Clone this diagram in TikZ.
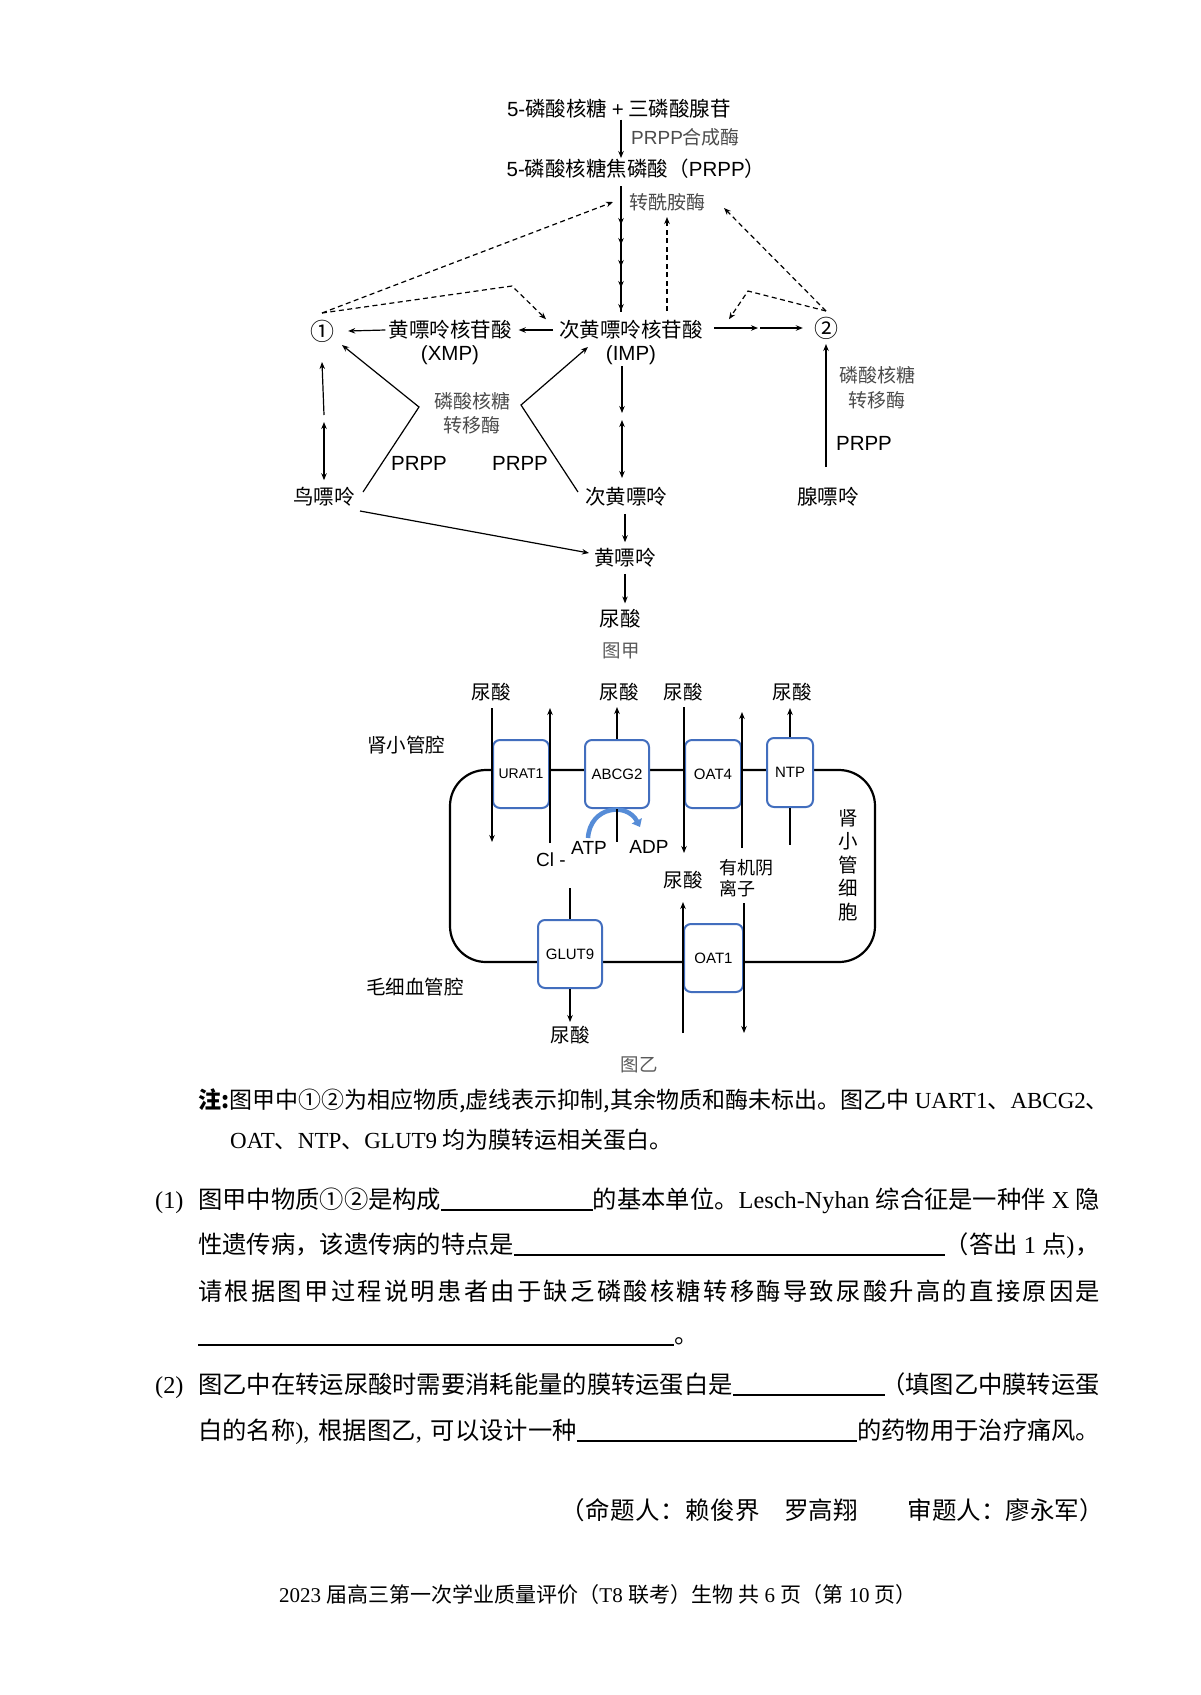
\documentclass[tikz,border=0pt]{standalone}
\usepackage{fontspec}
\setmainfont{Liberation Serif}
\newfontfamily\cjk{Noto Sans CJK SC}
\newfontfamily\sans{Liberation Sans}
\usetikzlibrary{arrows.meta,decorations.markings}
\definecolor{boxblue}{RGB}{66,110,190}
\definecolor{arcblue}{RGB}{86,140,215}
\definecolor{enzgray}{RGB}{75,75,75}
\definecolor{figgray}{RGB}{90,90,90}
\makeatletter
\def\spr@a#1#2\@nil{#1\ifx\relax#2\relax\else\hfil\spr@a#2\@nil\fi}
\newcommand\spreadto[2]{\hbox to #1{\spr@a#2\@nil}}
\makeatother
\begin{document}
\begin{tikzpicture}[x=1pt,y=-1pt,
  lab/.style={font=\cjk\fontsize{20.5}{24}\selectfont, inner sep=1pt},
  circ/.style={font=\cjk\fontsize{24}{28}\selectfont, inner sep=1pt},
  labb/.style={font=\cjk\fontsize{19.5}{23.5}\selectfont, inner sep=1pt},
  enz/.style={font=\cjk\fontsize{19}{22}\selectfont, text=enzgray, inner sep=1pt},
  la/.style={font=\sans\fontsize{20.5}{24}\selectfont, inner sep=1pt},
  lab2/.style={font=\sans\fontsize{19}{22}\selectfont, inner sep=1pt},
  figlab/.style={font=\cjk\fontsize{18.5}{22}\selectfont, text=figgray, inner sep=1pt},
  arr/.style={line width=1.2pt, -{Stealth[length=7pt,width=5.5pt]}},
  dbl/.style={line width=1.2pt, {Stealth[length=7pt,width=5.5pt]}-{Stealth[length=7pt,width=5.5pt]}},
  ln/.style={line width=1.2pt},
  darr/.style={line width=1.2pt, dash pattern=on 5pt off 3.5pt, -{Stealth[length=7pt,width=5.5pt]}},
  tbox/.style={draw=boxblue, line width=2pt, rounded corners=7pt, fill=white, font=\sans\fontsize{15}{18}\selectfont, inner sep=0pt},
  memb/.style={line width=2.2pt, rounded corners=36pt},
  body/.style={font=\fontsize{24.3}{28}\selectfont, inner sep=0pt},
  blankline/.style={line width=1.1pt}
]
\fill[white] (0,0) rectangle (1200,1695);
\useasboundingbox (0,0) rectangle (1200,1695);

% ---------------- Figure A ----------------
\node[lab] (top) at (619,109) {{\sans 5-}磷酸核糖 {\sans +} 三磷酸腺苷};
\node[lab] (prpp) at (636,169) {{\sans 5-}磷酸核糖焦磷酸（{\sans PRPP}）};
\coordinate (ch0) at (621,186);
\coordinate (ch1) at (621,312);
\draw[arr] (top.south -| ch0) -- (prpp.north -| ch0);
\node[enz, anchor=west] (e1) at (630,137) {{\sans PRPP}合成酶};
\node[enz, anchor=west] (e2) at (628,202) {转酰胺酶};

\draw[ln, postaction={decorate}, decoration={markings,
  mark=at position 39pt with {\arrow{Stealth[length=7pt,width=5.5pt]}},
  mark=at position 59pt with {\arrow{Stealth[length=7pt,width=5.5pt]}},
  mark=at position 81pt with {\arrow{Stealth[length=7pt,width=5.5pt]}},
  mark=at position 102pt with {\arrow{Stealth[length=7pt,width=5.5pt]}},
  mark=at position 125pt with {\arrow{Stealth[length=7pt,width=5.5pt]}}}] (ch0) -- (ch1);

\node[lab] (imp) at (631,330) {次黄嘌呤核苷酸};
\node[la] (impb) at (631,355) {(IMP)};
\node[lab] (xmp) at (450,330) {黄嘌呤核苷酸};
\node[la] (xmpb) at (450,355) {(XMP)};
\node[circ] (n1) at (322,331) {①};
\node[circ] (n2) at (826,328) {②};

\draw[arr] ([xshift=-5pt]imp.west) -- ([xshift=6pt]xmp.east);
\draw[arr] ([xshift=-2pt]xmp.west) -- ([xshift=13pt]n1.east);
\coordinate (r0) at (714,328);
\coordinate (r1) at (758,328);
\coordinate (r2) at (760,328);
\draw[arr] (r0) -- (r1);
\draw[arr] (r2) -- ([xshift=-10pt]n2.west);

% dashed inhibition
\coordinate (du0) at (667,311);
\coordinate (du1) at (667,217);
\draw[darr] (du0) -- (du1);
\coordinate (d0) at (322,313);
\coordinate (d1) at (512,286);
\coordinate (d2) at (724,208);
\coordinate (d3) at (748,291);
\coordinate (d4) at (826,311);
\draw[darr] (d0) -- ([xshift=-15pt]e2.west);
\draw[darr] (d0) -- (d1) -- ([xshift=-12pt]imp.north west);
\draw[darr] (d4) -- (d2);
\draw[darr] (d4) -- (d3) -- ([xshift=25pt]imp.north east);

% left column
\node[lab] (gua) at (324,497) {鸟嘌呤};
\coordinate (lc0) at (324,415);
\coordinate (lc1) at (324,422);
\draw[arr] (lc0) -- ([yshift=-31pt]n1.center);
\draw[dbl] (lc1) -- ([yshift=6pt]gua.north);

\coordinate (g1) at (363,492);
\coordinate (k1) at (419,407);
\coordinate (g2) at (342,345);
\draw[arr] (g1) -- (k1) -- (g2);
\node[lab] (hyp) at (626,497) {次黄嘌呤};
\coordinate (h1) at (578,492);
\coordinate (k2) at (521,405);
\coordinate (h2) at (588,347);
\draw[arr] (h1) -- (k2) -- (h2);
\node[la] (p1) at (419,463) {PRPP};
\node[la] (p2) at (520,463) {PRPP};
\node[enz] (e3) at (472,401) {磷酸核糖};
\node[enz] (e4) at (472,425) {转移酶};

% IMP column
\coordinate (m0) at (622,366);
\coordinate (m1) at (622,413);
\coordinate (m2) at (622,420);
\coordinate (m3) at (622,478);
\draw[arr] (m0) -- (m1);
\draw[dbl] (m2) -- (m3);

\node[lab] (xan) at (625,558) {黄嘌呤};
\draw[arr, shorten <=6pt, shorten >=5pt] (hyp.south -| xan.north) -- (xan.north);
\node[lab] (uric) at (620,619) {尿酸};
\draw[arr, shorten <=5pt, shorten >=5pt] (xan.south) -- (xan.south |- uric.north);
\node[figlab] (fa) at (621,651) {图甲};
\coordinate (gx) at (360,511);
\coordinate (xe) at (589,553);
\draw[arr] (gx) -- (xe);

% right column
\node[lab] (ade) at (828,497) {腺嘌呤};
\coordinate (a0) at (826,467);
\coordinate (a1) at (826,344);
\draw[arr] (a0) -- (a1);
\node[enz] (e5) at (877,375) {磷酸核糖};
\node[enz] (e6) at (877,400) {转移酶};
\node[la] (p3) at (864,443) {PRPP};

% ---------------- Figure B ----------------
\draw[memb] (450,770) rectangle (875,962);
\node[tbox, minimum width=56pt, minimum height=68pt, font=\sans\fontsize{14}{17}\selectfont] (urat) at (521,774) {URAT1};
\node[tbox, minimum width=64pt, minimum height=68pt] (abcg) at (617,774) {ABCG2};
\node[tbox, minimum width=56pt, minimum height=68pt] (oat4) at (713,774) {OAT4};
\node[tbox, minimum width=46pt, minimum height=69pt] (ntp) at (790,772.5) {NTP};
\node[tbox, minimum width=64pt, minimum height=68pt] (glut) at (570,954) {GLUT9};
\node[tbox, minimum width=59pt, minimum height=68pt] (oat1) at (713.5,958) {OAT1};

\node[labb] (u1) at (491,692) {尿酸};
\node[labb] (u2) at (619,692) {尿酸};
\node[labb] (u3) at (683,692) {尿酸};
\node[labb] (u4) at (792,692) {尿酸};
\node[labb] (lumen) at (406,745) {肾小管腔};
\node[labb] (cap) at (415,987) {毛细血管腔};
\node[labb, align=center] (cellt) at (848,865) {肾\\小\\管\\细\\胞};

% blue ATP arc
\draw[arcblue, line width=4.5pt, -{Triangle[length=7pt,width=11pt]}] (588,838) .. controls (590,806) and (627,802) .. (640,827);

\draw[arr] (urat.west |- 0,708) -- (urat.west |- 0,842);
\draw[arr] (urat.east |- 0,843) -- (urat.east |- 0,708);
\draw[arr] (abcg.north) -- (abcg.north |- 0,707);
\draw[ln] (abcg.south) -- (abcg.south |- 0,842);
\draw[arr] (oat4.west |- 0,707) -- (oat4.west |- 0,853);
\draw[arr] (oat4.east |- 0,848) -- (oat4.east |- 0,712);
\draw[arr] (ntp.north) -- (ntp.north |- 0,708);
\draw[ln] (ntp.south) -- (ntp.south |- 0,845);
\draw[ln] (glut.north |- 0,888) -- (glut.north);
\draw[arr] (glut.south) -- (glut.south |- 0,1022);
\draw[arr] (oat1.west |- 0,1033) -- (oat1.west |- 0,902);
\draw[arr] (oat1.east |- 0,903) -- (oat1.east |- 0,1033);

\node[lab2] (atp) at (589,848) {ATP};
\node[lab2] (adp) at (649,847) {ADP};
\node[lab2] (cl) at (551,860) {Cl -};
\node[labb] (u5) at (683,880) {尿酸};
\node[font=\cjk\fontsize{18}{21}\selectfont, align=left, anchor=west, inner sep=1pt] (anion) at (718,878) {有机阴\\离子};
\node[labb] (u6) at (570,1035) {尿酸};
\node[figlab] (fb) at (639,1065) {图乙};

% ---------------- Text ----------------
\node[anchor=base west, font=\fontsize{23}{28}\selectfont, inner sep=0pt] (note1) at (198,1108)
  {{\cjk\bfseries 注:}{\cjk 图甲中①②为相应物质,虚线表示抑制,其余物质和酶未标出。图乙中} UART1{\cjk 、}ABCG2{\cjk 、}};
\node[anchor=base west, font=\fontsize{23}{28}\selectfont, inner sep=0pt] (note2) at (230,1148)
  {OAT{\cjk 、}NTP{\cjk 、}GLUT9 {\cjk 均为膜转运相关蛋白。}};

\node[body, anchor=base west] (q1) at (155,1208) {(1)};
\node[body, anchor=base west] (t1a) at (198,1208) {\cjk 图甲中物质①②是构成};
\node[body, anchor=base east] (t1b) at (1100,1208) {{\cjk 的基本单位。}Lesch-Nyhan {\cjk 综合征是一种伴} X {\cjk 隐}};
\draw[blankline] ([yshift=-2pt]t1a.base east) -- ([yshift=-2pt]t1b.base west);

\node[body, anchor=base west] (t2a) at (198,1253) {\cjk 性遗传病，该遗传病的特点是};
\node[body, anchor=base east] (t2b) at (1100,1253) {{\cjk （答出} 1 {\cjk 点})\kern1pt{\cjk ，}};
\draw[blankline] ([yshift=-2pt]t2a.base east) -- ([yshift=-2pt]t2b.base west);

\node[body, anchor=base west] (t3) at (198,1300) {\cjk\spreadto{902pt}{请根据图甲过程说明患者由于缺乏磷酸核糖转移酶导致尿酸升高的直接原因是}};

\coordinate (b4) at (198,1345);
\node[body, anchor=base west] (t4) at (674,1343) {\cjk 。};
\draw[blankline] (b4) -- ([yshift=-2pt]t4.base west);

\node[body, anchor=base west] (q2) at (155,1393) {(2)};
\node[body, anchor=base west] (t5a) at (198,1393) {\cjk 图乙中在转运尿酸时需要消耗能量的膜转运蛋白是};
\node[body, anchor=base east] (t5b) at (1100,1393) {\cjk （填图乙中膜转运蛋};
\draw[blankline] ([yshift=-2pt]t5a.base east) -- ([yshift=-2pt,xshift=4pt]t5b.base west);

\node[body, anchor=base west] (t6a) at (198,1439) {{\cjk 白的名称}),\hspace{9pt}{\cjk 根据图乙},\hspace{9pt}{\cjk 可以设计一种}};
\node[body, anchor=base west] (t6b) at (857,1439) {\cjk 的药物用于治疗痛风。};
\draw[blankline] ([yshift=-2pt]t6a.base east) -- ([yshift=-2pt]t6b.base west);

\node[anchor=base west, font=\cjk\fontsize{24.5}{28}\selectfont, inner sep=0pt] (s1) at (560,1519) {\spreadto{200pt}{（命题人：赖俊界}};
\node[anchor=base west, font=\cjk\fontsize{24.5}{28}\selectfont, inner sep=0pt] (s2) at (784,1519) {罗高翔};
\node[anchor=base east, font=\cjk\fontsize{24.5}{28}\selectfont, inner sep=0pt] (s3) at (1104,1519) {审题人：廖永军）};

\node[anchor=base west, font=\fontsize{21}{25}\selectfont, inner sep=0pt] (foot) at (279,1602)
  {2023 {\cjk 届高三第一次学业质量评价（}T8 {\cjk 联考）生物} {\cjk 共} 6 {\cjk 页（第} 10 {\cjk 页）}};
\end{tikzpicture}
\end{document}
